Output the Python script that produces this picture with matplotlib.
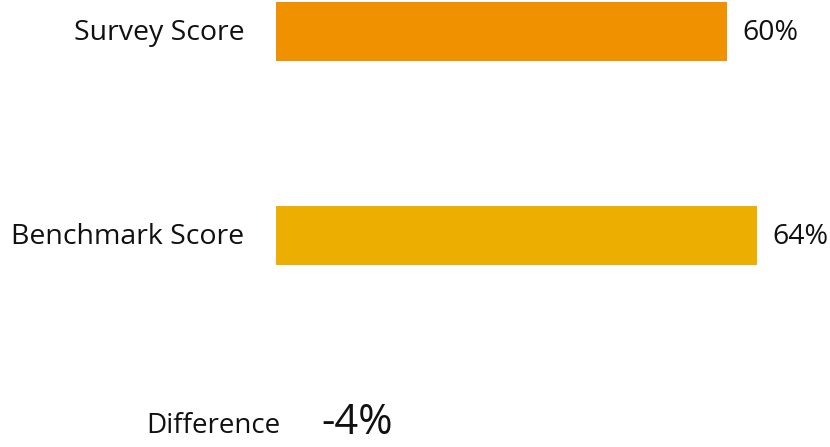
import matplotlib.pyplot as plt

# scores in percent
labels = ["Survey Score", "Benchmark Score"]
scores = [60, 64]
colors = ["#F09100", "#ECAE00"]

difference = scores[0] - scores[1]

plt.rcParams['font.family'] = ['Open Sans', 'DejaVu Sans']

fig = plt.figure(figsize=(8.3, 4.47), dpi=100)
ax = fig.add_axes([276 / 830, 0, 554 / 830, 1])

ypos = list(range(len(labels)))
ax.barh(ypos, scores, height=0.29, color=colors)
ax.set_xlim(0, 554 / 7.52)
ax.set_ylim(2.037, -0.154)

for y, lab, val in zip(ypos, labels, scores):
    ax.text(-4.2, y + 0.01, lab, ha='right', va='center', fontsize=20.5, color='#111111')
    ax.text(val + 2.0, y + 0.01, f"{val}%", ha='left', va='center', fontsize=20.5, color='#111111')

ax.text(280 / 830, 1 - 426 / 447, "Difference", transform=fig.transFigure,
        ha='right', va='center', fontsize=20, color='#111111')
ax.text(321 / 830, 1 - 423 / 447, f"{difference}%", transform=fig.transFigure,
        ha='left', va='center', fontsize=30, color='#111111')

ax.axis('off')
fig.savefig("out.png", dpi=100)
